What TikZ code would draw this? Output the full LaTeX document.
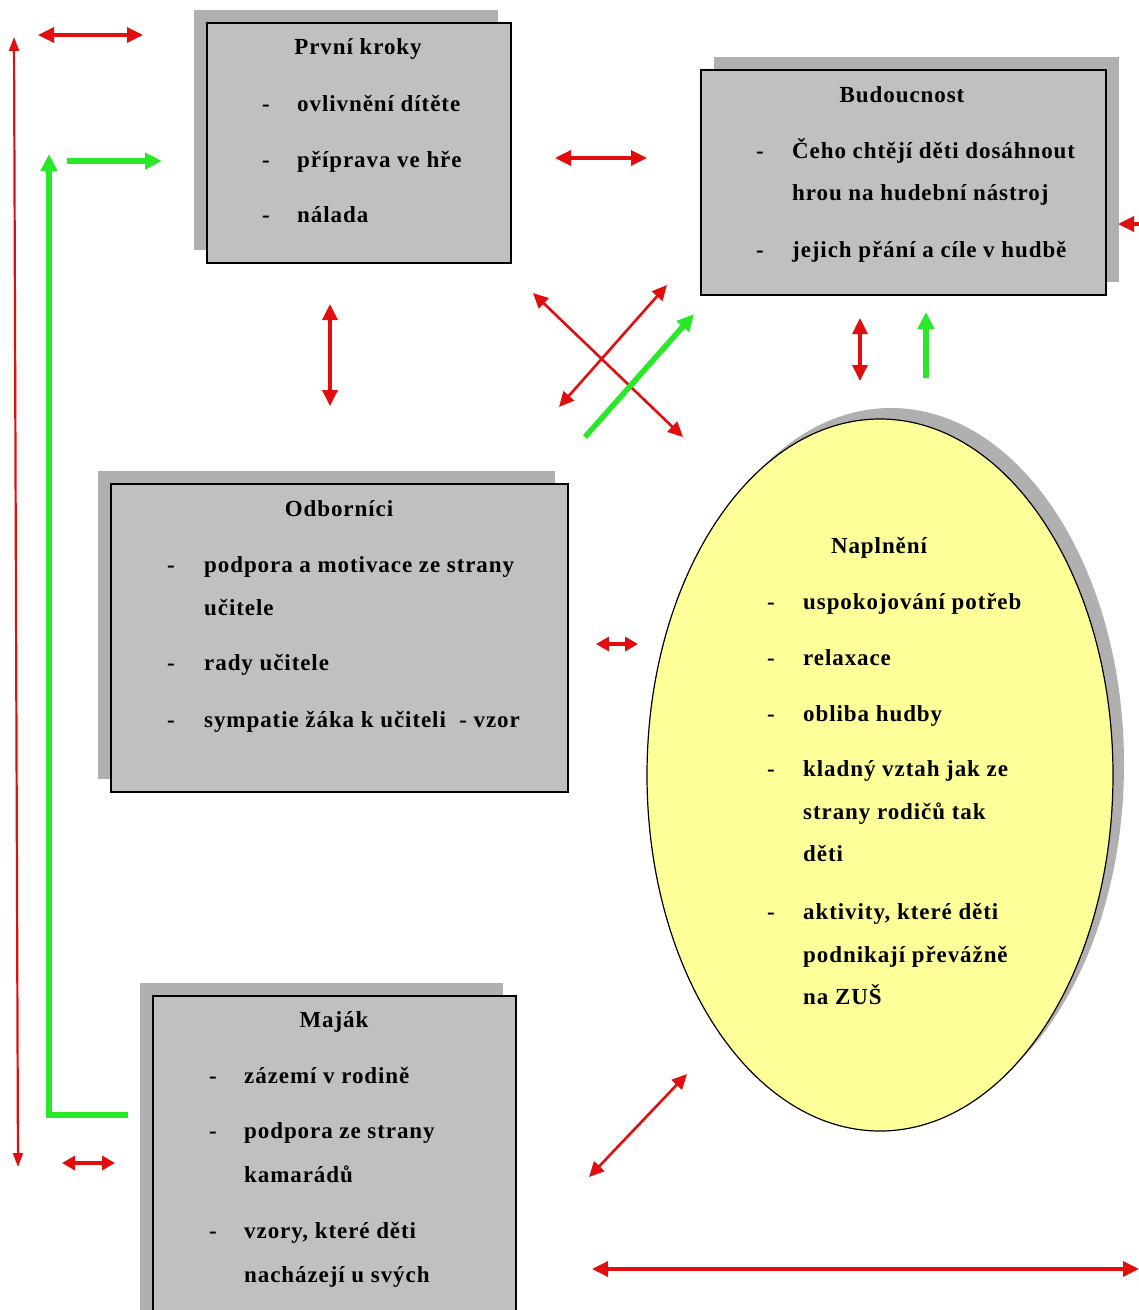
\documentclass[tikz,border=0pt]{standalone}
\usepackage{fontspec}
\setmainfont{Liberation Serif}[LetterSpace=4]
\usetikzlibrary{arrows.meta,shapes.geometric}
\definecolor{boxgray}{RGB}{192,192,192}
\definecolor{shadowgray}{RGB}{176,176,176}
\definecolor{ellyellow}{RGB}{255,255,153}
\definecolor{arrred}{RGB}{226,14,14}
\definecolor{arrgreen}{RGB}{40,232,40}
\begin{document}
\begin{tikzpicture}[x=1pt,y=-1pt,
  box/.style={draw=black,line width=1.6pt,fill=boxgray,rectangle,inner sep=0pt},
  ellbox/.style={draw=black,line width=1.2pt,fill=ellyellow,ellipse,inner sep=0pt},
  txt/.style={anchor=base west,inner sep=0pt,font=\fontsize{23}{27}\selectfont\bfseries},
  ttl/.style={anchor=base,inner sep=0pt,font=\fontsize{23}{27}\selectfont\bfseries},
  redarr/.style={draw=arrred,line width=3.4pt,{Triangle[length=16pt,width=15pt]}-{Triangle[length=16pt,width=15pt]}},
  redx/.style={draw=arrred,line width=2.6pt,{Triangle[length=15pt,width=14pt]}-{Triangle[length=15pt,width=14pt]}},
  redshort/.style={draw=arrred,line width=3.4pt,{Triangle[length=13pt,width=14pt]}-{Triangle[length=13pt,width=14pt]}},
  redthin/.style={draw=arrred,line width=2.2pt,{Triangle[length=14pt,width=10pt]}-{Triangle[length=14pt,width=10pt]}},
  redone/.style={draw=arrred,line width=3.4pt,-{Triangle[length=16pt,width=15pt]}},
  greenarr/.style={draw=arrgreen,line width=5.5pt,-{Triangle[length=17pt,width=16pt]}}
]
\useasboundingbox (0,0) rectangle (1139,1310);
\clip (0,0) rectangle (1139,1310);
\fill[white] (0,0) rectangle (1139,1310);

% ---------- Box 1: První kroky
\fill[shadowgray] (194,10) rectangle (498,250);
\node[box,minimum width=304pt,minimum height=240pt] (prvni) at (359,143) {};
\node[ttl] (prvniT) at (358,54) {První kroky};
\node[txt] (p1d) at (262,111) {-};
\node[txt] (p1) at (297,111) {ovlivnění dítěte};
\node[txt] (p2d) at (262,167) {-};
\node[txt] (p2) at (297,167) {příprava ve hře};
\node[txt] (p3d) at (262,222) {-};
\node[txt] (p3) at (297,222) {nálada};

% ---------- Box 2: Budoucnost
\fill[shadowgray] (714,57) rectangle (1119,282);
\node[box,minimum width=405pt,minimum height=225pt] (bud) at (903.5,182.5) {};
\node[ttl] (budT) at (902,102) {Budoucnost};
\node[txt] (b1d) at (756,158) {-};
\node[txt] (b1) at (792,158) {Čeho chtějí děti dosáhnout};
\node[txt] (b1b) at (792,200) {hrou na hudební nástroj};
\node[txt] (b2d) at (756,257) {-};
\node[txt] (b2) at (792,257) {jejich přání a cíle v hudbě};

% ---------- Box 3: Odborníci
\fill[shadowgray] (98,471) rectangle (555,779);
\node[box,minimum width=457pt,minimum height=308pt] (odb) at (339.5,638) {};
\node[ttl] (odbT) at (339,516) {Odborníci};
\node[txt] (o1d) at (167,572) {-};
\node[txt] (o1) at (204,572) {podpora a motivace ze strany};
\node[txt] (o1b) at (204,615) {učitele};
\node[txt] (o2d) at (167,670) {-};
\node[txt] (o2) at (204,670) {rady učitele};
\node[txt] (o3d) at (167,727) {-};
\node[txt] (o3) at (204,727) {sympatie žáka k učiteli\ \ - vzor};

% ---------- Ellipse: Naplnění
\fill[shadowgray] (891,764) ellipse [x radius=233, y radius=356];
\node[ellbox,minimum width=466pt,minimum height=712pt] (napl) at (880,775) {};
\node[ttl] (naplT) at (879,553) {Naplnění};
\node[txt] (n1d) at (767,609) {-};
\node[txt] (n1) at (803,609) {uspokojování potřeb};
\node[txt] (n2d) at (767,665) {-};
\node[txt] (n2) at (803,665) {relaxace};
\node[txt] (n3d) at (767,721) {-};
\node[txt] (n3) at (803,721) {obliba hudby};
\node[txt] (n4d) at (767,776) {-};
\node[txt] (n4) at (803,776) {kladný vztah jak ze};
\node[txt] (n4b) at (803,819) {strany rodičů tak};
\node[txt] (n4c) at (803,861) {děti};
\node[txt] (n5d) at (767,919) {-};
\node[txt] (n5) at (803,919) {aktivity, které děti};
\node[txt] (n5b) at (803,962) {podnikají převážně};
\node[txt] (n5c) at (803,1004) {na ZUŠ};

% ---------- Box 4: Maják
\fill[shadowgray] (140,983) rectangle (503,1317);
\node[box,minimum width=363pt,minimum height=334pt] (majak) at (334.5,1163) {};
\node[ttl] (majakT) at (334,1027) {Maják};
\node[txt] (m1d) at (209,1083) {-};
\node[txt] (m1) at (244,1083) {zázemí v rodině};
\node[txt] (m2d) at (209,1138) {-};
\node[txt] (m2) at (244,1138) {podpora ze strany};
\node[txt] (m2b) at (244,1182) {kamarádů};
\node[txt] (m3d) at (209,1238) {-};
\node[txt] (m3) at (244,1238) {vzory, které děti};
\node[txt] (m3b) at (244,1282) {nacházejí u svých};

% ---------- connector end points
\coordinate (a1s) at (38,35);    \coordinate (a1e) at (143,35);
\coordinate (lv1) at (14,37);    \coordinate (lv2) at (18,1167);
\coordinate (gL1) at (128,1115); \coordinate (gL2) at (49,1115); \coordinate (gL3) at (49,154);
\coordinate (gh1) at (67,161);   \coordinate (gh2) at (162,161);
\coordinate (r12a) at (555,158); \coordinate (r12b) at (647,158);
\coordinate (r13a) at (330,304); \coordinate (r13b) at (330,406);
\coordinate (xa1) at (533,293);  \coordinate (xa2) at (683,437);
\coordinate (xb1) at (667,285);  \coordinate (xb2) at (559,407);
\coordinate (gd1) at (585,437);  \coordinate (gd2) at (694,314);
\coordinate (r2ea) at (860,318); \coordinate (r2eb) at (860,381);
\coordinate (g2e1) at (926,378); \coordinate (g2e2) at (926,312);
\coordinate (rr1) at (1146,224); \coordinate (rr2) at (1118,224);
\coordinate (r3ea) at (596,644); \coordinate (r3eb) at (638,644);
\coordinate (rbl1) at (62,1163); \coordinate (rbl2) at (115,1163);
\coordinate (rd1) at (687,1074); \coordinate (rd2) at (589,1177);
\coordinate (rb1) at (592,1269); \coordinate (rb2) at (1139,1269);

% ---------- connectors
\draw[redarr] (a1s) -- (a1e);
\draw[redthin] (lv1) -- (lv2);
\draw[greenarr,line join=miter] (gL1) -- (gL2) -- (gL3);
\draw[greenarr] (gh1) -- (gh2);
\draw[redarr] (r12a) -- (r12b);
\draw[redarr] (r13a) -- (r13b);
\draw[redx] (xa1) -- (xa2);
\draw[redx] (xb1) -- (xb2);
\draw[greenarr] (gd1) -- (gd2);
\draw[redarr] (r2ea) -- (r2eb);
\draw[greenarr] (g2e1) -- (g2e2);
\draw[redone] (rr1) -- (rr2);
\draw[redshort] (r3ea) -- (r3eb);
\draw[redshort] (rbl1) -- (rbl2);
\draw[redx] (rd1) -- (rd2);
\draw[redarr] (rb1) -- (rb2);
\end{tikzpicture}
\end{document}
